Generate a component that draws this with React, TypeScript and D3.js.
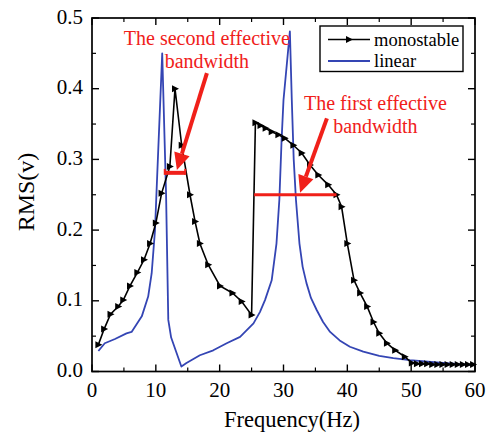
import React from "react";
import * as d3 from "d3";

const monoFreq = [1.0, 1.9, 2.9, 4.1, 4.9, 5.95, 7.1, 8.15, 9.1, 10.0, 10.9, 12.2, 13.0, 14.05, 15.35, 16.15, 16.9, 18.2, 20.05, 22.0, 23.45, 25.0,
  25.6, 26.4, 27.2, 28.15, 29.2, 30.2, 31.55, 32.85, 34.15, 35.45, 37.0, 38.3,
  39.1, 40.0, 41.05, 42.0, 43.1, 44.1, 45.0, 46.2, 47.5, 49.0, 50.1, 50.9, 51.7, 52.5, 53.3, 54.1, 54.9, 55.7, 56.5, 57.3, 58.1, 58.9, 59.7];
const monoRms = [0.038, 0.060, 0.081, 0.092, 0.101, 0.121, 0.140, 0.158, 0.181, 0.210, 0.252, 0.290, 0.400, 0.320, 0.250, 0.212, 0.181, 0.151, 0.121, 0.111, 0.099, 0.080,
  0.352, 0.348, 0.344, 0.339, 0.335, 0.330, 0.320, 0.309, 0.292, 0.278, 0.264, 0.250,
  0.233, 0.181, 0.129, 0.111, 0.092, 0.070, 0.054, 0.040, 0.030, 0.021, 0.012, 0.011, 0.011, 0.011, 0.010, 0.010, 0.010, 0.010, 0.010, 0.010, 0.010, 0.010, 0.010];

const linFreq = [1.0, 2.0, 3.6, 5.4, 6.2, 7.8, 8.8, 9.35, 9.87, 10.1, 11.0, 11.6, 11.95, 12.4, 13.1, 14.0, 14.8, 16.9, 19.0, 21.1, 23.2, 25.3, 26.3, 27.1, 28.15, 28.9, 29.35, 29.7, 30.0, 31.0, 31.3, 31.6, 31.95, 32.5, 33.0, 33.6, 34.3, 35.2, 36.2, 37.3, 38.8, 40.4, 42.5, 45.0, 47.2, 49.8, 55.0, 60.0];
const linRms = [0.029, 0.040, 0.046, 0.054, 0.056, 0.078, 0.106, 0.139, 0.200, 0.252, 0.450, 0.252, 0.073, 0.048, 0.030, 0.007, 0.012, 0.023, 0.030, 0.040, 0.049, 0.068, 0.084, 0.101, 0.129, 0.181, 0.243, 0.327, 0.384, 0.481, 0.384, 0.300, 0.243, 0.181, 0.148, 0.125, 0.104, 0.087, 0.070, 0.056, 0.044, 0.035, 0.028, 0.022, 0.019, 0.016, 0.012, 0.009];

const xTicks = [0, 10, 20, 30, 40, 50, 60];
const yTicks = [0.0, 0.1, 0.2, 0.3, 0.4, 0.5];

// annotations (data units)
const band2 = { f0: 11.4, f1: 14.6, v: 0.281 };
const band1 = { f0: 25.4, f1: 38.3, v: 0.25 };
const arrow2 = { f0: 18.0, v0: 0.422, f1: 13.3, v1: 0.285 };
const arrow1 = { f0: 36.8, v0: 0.358, f1: 32.6, v1: 0.253 };
const label2 = { f: 18.0, v: 0.462, lines: ["The second effective", "bandwidth"] };
const label1 = { f: 44.4, v: 0.370, lines: ["The first effective", "bandwidth"] };

const W = 486, H = 436;
const L = 92, R = 475, T = 18, B = 371.5;
const RED = "#f0201a";
const BLUE = "#3445b4";
const FONT = "'Liberation Serif', 'Times New Roman', serif";

function Arrow({ x0, y0, x1, y1 }: { x0: number; y0: number; x1: number; y1: number }) {
  const ang = Math.atan2(y1 - y0, x1 - x0);
  const len = 17, half = 8;
  const bx = x1 - len * Math.cos(ang), by = y1 - len * Math.sin(ang);
  const px = -Math.sin(ang) * half, py = Math.cos(ang) * half;
  return (
    <g>
      <line x1={x0} y1={y0} x2={bx} y2={by} stroke={RED} strokeWidth={4} />
      <polygon points={`${x1},${y1} ${bx + px},${by + py} ${bx - px},${by - py}`} fill={RED} />
    </g>
  );
}

export default function App() {
  const x = d3.scaleLinear().domain([0, 60]).range([L, R]);
  const y = d3.scaleLinear().domain([0, 0.5]).range([B, T]);
  const mono = monoFreq.map((f, i) => [f, monoRms[i]] as [number, number]);
  const lin = linFreq.map((f, i) => [f, linRms[i]] as [number, number]);
  const line = d3.line<[number, number]>().x(d => x(d[0])).y(d => y(d[1]));
  const tri = (cx: number, cy: number) => `${cx + 4},${cy} ${cx - 3},${cy - 3.5} ${cx - 3},${cy + 3.5}`;
  const xMinor = d3.range(5, 60, 10);
  const yMinor = d3.range(0.05, 0.5, 0.1);

  return (
    <svg width={W} height={H} style={{ position: "absolute", left: 0, top: 0, background: "#fff" }} fontFamily={FONT}>
      <rect x={0} y={0} width={W} height={H} fill="#fff" />
      {/* data */}
      <path d={line(lin) || ""} fill="none" stroke={BLUE} strokeWidth={1.8} strokeLinejoin="round" />
      <path d={line(mono) || ""} fill="none" stroke="#000" strokeWidth={1.6} />
      {mono.map((d, i) => (
        <polygon key={i} points={tri(x(d[0]), y(d[1]))} fill="#000" />
      ))}
      {/* bands */}
      <line x1={x(band2.f0)} x2={x(band2.f1)} y1={y(band2.v)} y2={y(band2.v)} stroke={RED} strokeWidth={4} />
      <line x1={x(band2.f0)} x2={x(band2.f0)} y1={y(band2.v) - 4} y2={y(band2.v) + 2} stroke={RED} strokeWidth={2} />
      <line x1={x(band2.f1)} x2={x(band2.f1)} y1={y(band2.v) - 4} y2={y(band2.v) + 2} stroke={RED} strokeWidth={2} />
      <line x1={x(band1.f0)} x2={x(band1.f1)} y1={y(band1.v)} y2={y(band1.v)} stroke={RED} strokeWidth={3} />
      <Arrow x0={x(arrow2.f0)} y0={y(arrow2.v0)} x1={x(arrow2.f1)} y1={y(arrow2.v1)} />
      <Arrow x0={x(arrow1.f0)} y0={y(arrow1.v0)} x1={x(arrow1.f1)} y1={y(arrow1.v1)} />
      {[label2, label1].map((lb, k) => (
        <text key={k} x={x(lb.f)} y={y(lb.v)} fill={RED} fontSize={20} textAnchor="middle">
          {lb.lines.map((t, j) => (
            <tspan key={j} x={x(lb.f)} dy={j === 0 ? 0 : 23}>{t}</tspan>
          ))}
        </text>
      ))}
      {/* frame */}
      <rect x={L} y={T} width={R - L} height={B - T} fill="none" stroke="#000" strokeWidth={1.7} />
      {xTicks.map(t => (
        <g key={"x" + t}>
          <line x1={x(t)} x2={x(t)} y1={B} y2={B - 7} stroke="#000" strokeWidth={1.4} />
          <line x1={x(t)} x2={x(t)} y1={T} y2={T + 7} stroke="#000" strokeWidth={1.4} />
          <text x={x(t)} y={397} fontSize={21} textAnchor="middle">{t}</text>
        </g>
      ))}
      {xMinor.map(t => (
        <g key={"xm" + t}>
          <line x1={x(t)} x2={x(t)} y1={B} y2={B - 4} stroke="#000" strokeWidth={1.2} />
          <line x1={x(t)} x2={x(t)} y1={T} y2={T + 4} stroke="#000" strokeWidth={1.2} />
        </g>
      ))}
      {yTicks.map(t => (
        <g key={"y" + t}>
          <line x1={L} x2={L + 7} y1={y(t)} y2={y(t)} stroke="#000" strokeWidth={1.4} />
          <line x1={R} x2={R - 7} y1={y(t)} y2={y(t)} stroke="#000" strokeWidth={1.4} />
          <text x={83} y={y(t) + 5.5} fontSize={21} textAnchor="end">{t.toFixed(1)}</text>
        </g>
      ))}
      {yMinor.map(t => (
        <g key={"ym" + t}>
          <line x1={L} x2={L + 4} y1={y(t)} y2={y(t)} stroke="#000" strokeWidth={1.2} />
          <line x1={R} x2={R - 4} y1={y(t)} y2={y(t)} stroke="#000" strokeWidth={1.2} />
        </g>
      ))}
      <text x={292} y={427} fontSize={22.5} textAnchor="middle">Frequency(Hz)</text>
      <text transform={`translate(34,192) rotate(-90)`} fontSize={24} textAnchor="middle">RMS(v)</text>
      {/* legend */}
      <rect x={320} y={26} width={143} height={45.5} fill="#fff" stroke="#000" strokeWidth={1.4} />
      <line x1={328} x2={370} y1={39.5} y2={39.5} stroke="#000" strokeWidth={1.6} />
      <polygon points={tri(349, 39.5)} fill="#000" />
      <text x={374} y={45.5} fontSize={18.5}>monostable</text>
      <line x1={328} x2={370} y1={61} y2={61} stroke={BLUE} strokeWidth={1.8} />
      <text x={374} y={67} fontSize={18.5}>linear</text>
    </svg>
  );
}
